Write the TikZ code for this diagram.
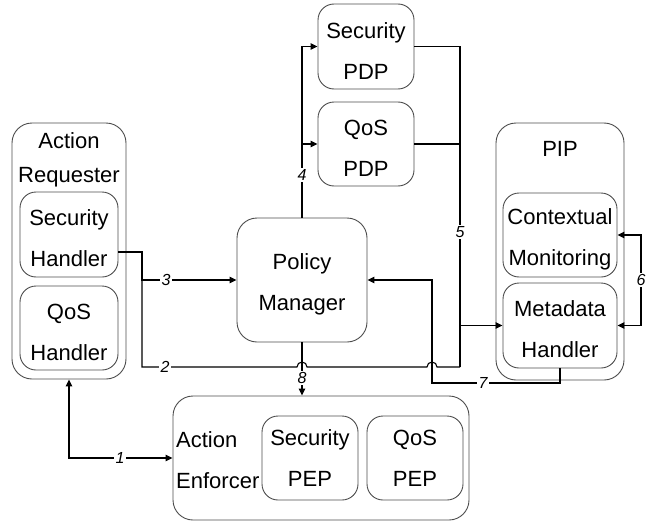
\documentclass[tikz,border=0pt]{standalone}
\usepackage{fontspec}
\setmainfont{Liberation Sans}
\usetikzlibrary{arrows.meta,calc}
% strut that lowers two-line box text slightly
\newcommand{\topstrut}{\rule{0pt}{24pt}}

\begin{document}
\begin{tikzpicture}[x=1pt,y=-1pt,
  box/.style={draw=black!70, line width=0.9pt, rounded corners=16pt, align=center,
    font=\fontsize{22}{41}\selectfont, inner sep=0pt},
  outer/.style={box, rounded corners=20pt},
  title/.style={align=center, font=\fontsize{22}{34}\selectfont, inner sep=0pt},
  conn/.style={line width=1.1pt, draw=black},
  tip/.style={-{Triangle[length=7pt,width=6.5pt]}},
  tips/.style={{Triangle[length=7pt,width=6.5pt]}-{Triangle[length=7pt,width=6.5pt]}},
  lab/.style={font=\fontsize{16}{16}\selectfont\itshape, fill=white, inner sep=1.5pt}
]
\useasboundingbox (0,0) rectangle (651,522);

% ---- containers ----
\node[outer, minimum width=114pt, minimum height=256pt] (AR) at (69,251) {};
\node[title, anchor=north] (ARt) at (69,132.5) {Action\\Requester};
\node[box, minimum width=98pt, minimum height=85pt] (SH) at (69,234.5) {\topstrut Security\\Handler};
\node[box, minimum width=98pt, minimum height=84pt] (QH) at (69,328) {\topstrut QoS\\Handler};

\node[outer, minimum width=128pt, minimum height=257pt] (PIP) at (560,251.5) {};
\node[title, anchor=base] (PIPt) at (560,156) {PIP};
\node[box, minimum width=114pt, minimum height=84pt] (CM) at (560,235) {\topstrut Contextual\\Monitoring};
\node[box, minimum width=114pt, minimum height=85pt] (MH) at (560,325.5) {\topstrut Metadata\\Handler};

\node[outer, minimum width=296pt, minimum height=124pt] (AE) at (321,458) {};
\node[title, align=left, anchor=north west, font=\fontsize{22}{41}\selectfont] (AEt) at (176,431.5) {Action\\Enforcer};
\node[box, minimum width=96pt, minimum height=84pt] (SPEP) at (310,458) {Security\\PEP};
\node[box, minimum width=96pt, minimum height=84pt] (QPEP) at (415,458) {QoS\\PEP};

% ---- decision points and manager ----
\node[outer, minimum width=130pt, minimum height=124pt] (PM) at (302,280) {\topstrut Policy\\Manager};
\node[box, minimum width=96pt, minimum height=85pt] (SPDP) at (366,46.5) {\topstrut Security\\PDP};
\node[box, minimum width=96pt, minimum height=84pt] (QPDP) at (366,144) {\topstrut QoS\\PDP};

% ---- routing points ----
\coordinate (b2) at (142,367);
\coordinate (e2) at (460,367);
\coordinate (c7) at (432,383);
\coordinate (c6) at (641,280);

% 1: requester <-> enforcer
\draw[conn, tips] (AR.south) |- (AE.west);
\node[lab] (l1) at (120,458) {1};

% 3: security handler -> policy manager
\draw[conn, tip] ([yshift=-17.5pt]SH.east) -| (b2 |- PM.west) -- (PM.west);
\node[lab] (l3) at (166,280) {3};

% 2: security handler -> shared bus, hopping over 8 and 7
\draw[conn] ([yshift=-17.5pt]SH.east) -| (b2)
  -- ($(PM.south |- b2)+(-5,0)$) arc[start angle=180, end angle=0, radius=5pt]
  -- ($(c7 |- b2)+(-5,0)$) arc[start angle=180, end angle=0, radius=5pt]
  -- (e2);
\node[lab] (l2) at (165,367) {2};

% 4: policy manager -> PDPs
\draw[conn, tip] (PM.north) |- (SPDP.west);
\draw[conn, tip] (PM.north |- QPDP.west) -- (QPDP.west);
\node[lab] (l4) at (302,175) {4};

% 5: PDPs -> metadata handler
\draw[conn] (SPDP.east) -| (e2);
\draw[conn] (QPDP.east) -- (QPDP.east -| e2);
\draw[conn, tip] (e2 |- MH.west) -- (MH.west);
\node[lab] (l5) at (460,232) {5};

% 6: contextual monitoring <-> metadata handler
\draw[conn, tips] (CM.east) -- (CM.east -| c6) -- (c6 |- MH.east) -- (MH.east);
\node[lab] (l6) at (c6) {6};

% 7: metadata handler -> policy manager
\draw[conn, tip] (MH.south) |- (c7) |- (PM.east);
\node[lab] (l7) at (483,383) {7};

% 8: policy manager -> enforcer
\draw[conn, tip] (PM.south) -- (PM.south |- AE.north);
\node[lab] (l8) at (302,378) {8};
\end{tikzpicture}
\end{document}
